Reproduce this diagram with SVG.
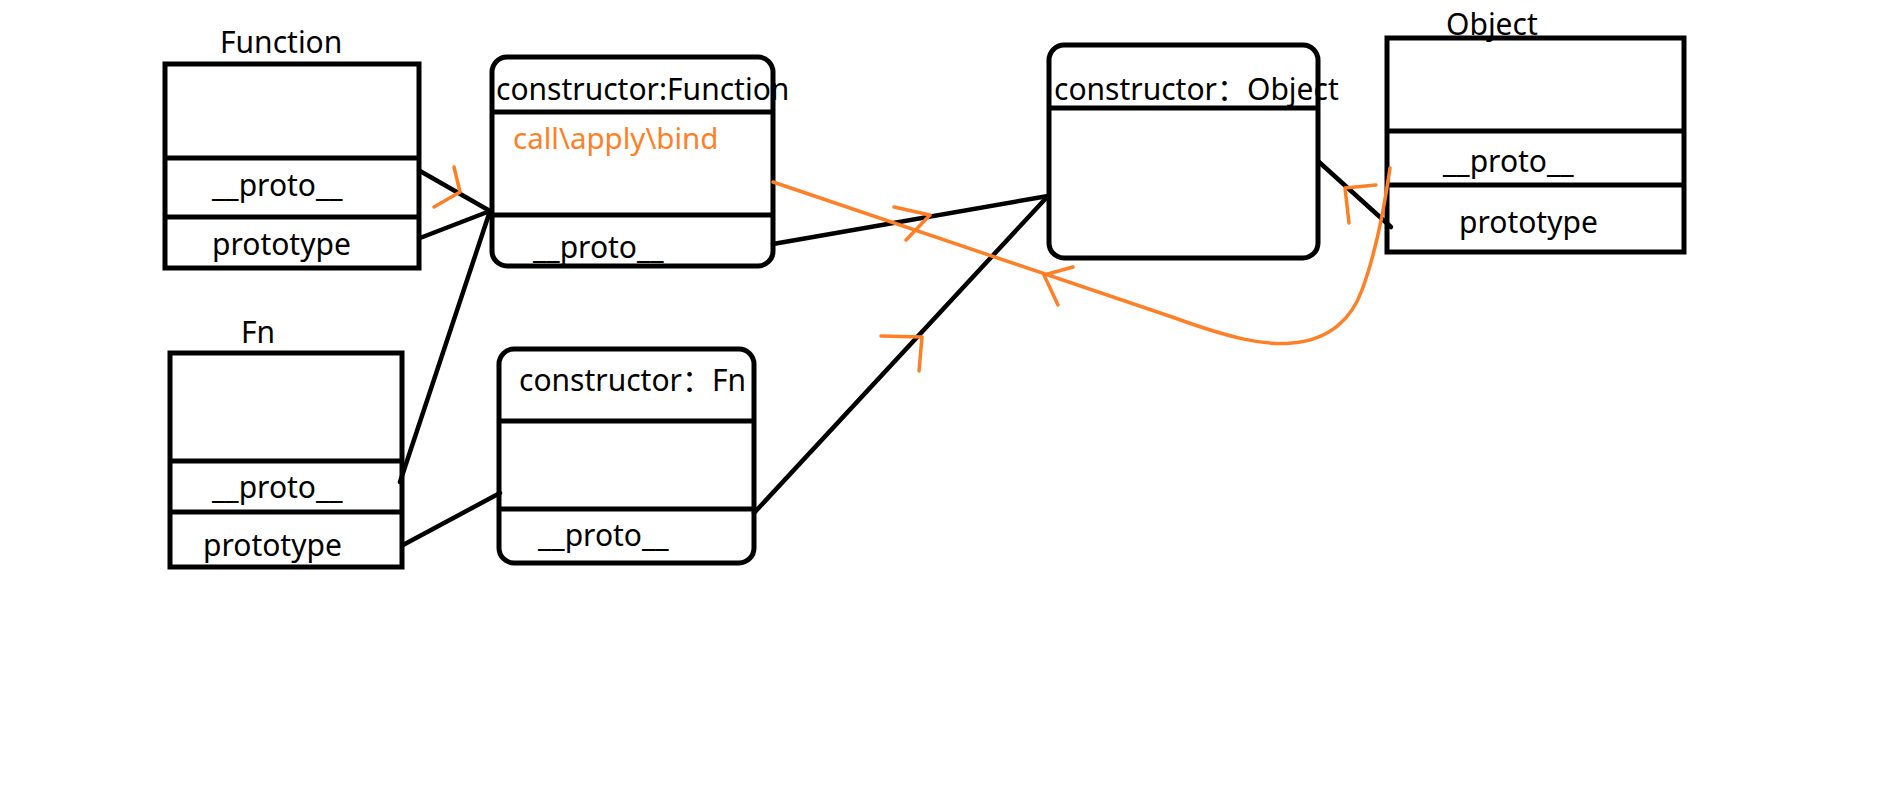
<svg xmlns="http://www.w3.org/2000/svg" width="1893" height="805" viewBox="0 0 1893 805">
<style>
.box{fill:none;stroke:#000;stroke-width:5}
.div{stroke:#000;stroke-width:5}
.t{font-family:"Noto Sans","Noto Sans CJK SC",sans-serif;font-size:30px;fill:#000}
.o{font-family:"Noto Sans","Noto Sans CJK SC",sans-serif;font-size:29.5px;fill:#FF7F27}
.ln{stroke:#000;stroke-width:4.5;fill:none;stroke-linecap:round}
.or{stroke:#FF7F27;stroke-width:3.5;fill:none;stroke-linecap:round;stroke-linejoin:round}
</style>
<rect width="1893" height="805" fill="#fff"/>
<g id="Function">
<text class="t" x="220" y="53">Function</text>
<rect class="box" x="165" y="64" width="254" height="204"/>
<line class="div" x1="165" y1="158" x2="419" y2="158"/>
<line class="div" x1="165" y1="217" x2="419" y2="217"/>
<text class="t" x="212" y="196">__proto__</text>
<text class="t" x="212" y="255">prototype</text>
</g>
<g id="FunctionPrototype">
<rect class="box" x="492" y="57" width="281" height="209" rx="15"/>
<line class="div" x1="492" y1="112" x2="773" y2="112"/>
<line class="div" x1="492" y1="215" x2="773" y2="215"/>
<text class="t" x="496" y="100">constructor:Function</text>
<text class="o" x="513" y="149">call\apply\bind</text>
<text class="t" x="533" y="258">__proto__</text>
</g>
<g id="Fn">
<text class="t" x="241" y="343">Fn</text>
<rect class="box" x="170" y="353" width="232" height="214"/>
<line class="div" x1="168" y1="461" x2="402" y2="461"/>
<line class="div" x1="168" y1="512" x2="402" y2="512"/>
<text class="t" x="212" y="498">__proto__</text>
<text class="t" x="203" y="556">prototype</text>
</g>
<g id="FnPrototype">
<rect class="box" x="499" y="349" width="255" height="214" rx="15"/>
<line class="div" x1="499" y1="421" x2="754" y2="421"/>
<line class="div" x1="499" y1="509" x2="754" y2="509"/>
<text class="t" x="519" y="391">constructor：Fn</text>
<text class="t" x="538" y="546">__proto__</text>
</g>
<g id="ObjectPrototype">
<rect class="box" x="1049" y="45" width="269" height="213" rx="15"/>
<line class="div" x1="1049" y1="108" x2="1320" y2="108"/>
<text class="t" x="1054" y="100">constructor：Object</text>
</g>
<g id="Object">
<text class="t" x="1446" y="35">Object</text>
<rect class="box" x="1387" y="38" width="297" height="214"/>
<line class="div" x1="1387" y1="131" x2="1684" y2="131"/>
<line class="div" x1="1387" y1="185" x2="1684" y2="185"/>
<text class="t" x="1443" y="172">__proto__</text>
<text class="t" x="1459" y="233">prototype</text>
</g>
<g id="connectors">
<line class="ln" x1="420" y1="171" x2="490" y2="211"/>
<line class="ln" x1="420" y1="238" x2="490" y2="211"/>
<line class="ln" x1="400" y1="482" x2="490" y2="211"/>
<line class="ln" x1="403" y1="545" x2="500" y2="493"/>
<line class="ln" x1="773" y1="244" x2="1048" y2="196"/>
<line class="ln" x1="754" y1="513" x2="1048" y2="196"/>
<line class="ln" x1="1319" y1="162" x2="1391" y2="227"/>
<path class="or" d="M773,182 L1175,318 C1230,338 1265,346 1292,343 C1330,340 1352,318 1362,290 C1375,255 1384,210 1390,168"/>
<polyline class="or" points="454,167 460,192 434,207"/>
<polyline class="or" points="894,207 930,215 906,240"/>
<polyline class="or" points="881,336 922,337 919,371"/>
<polyline class="or" points="1073,267 1044,275 1058,305"/>
<polyline class="or" points="1376,185 1345,188 1349,223"/>
</g>
</svg>
